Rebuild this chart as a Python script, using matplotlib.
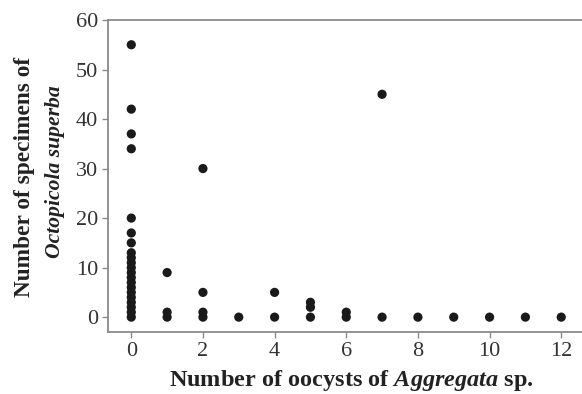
import matplotlib
matplotlib.use("Agg")
import matplotlib.pyplot as plt

plt.rcParams['font.family'] = ['Liberation Serif', 'DejaVu Serif']
plt.rcParams['mathtext.fontset'] = 'custom'
plt.rcParams['mathtext.rm'] = 'Liberation Serif:bold'
plt.rcParams['mathtext.bfit'] = 'Liberation Serif:italic:bold'
plt.rcParams['mathtext.it'] = 'Liberation Serif:italic:bold'

# data: (oocysts, specimens)
x_vals = [0]*21 + [1, 1, 1] + [2, 2, 2, 2] + [3] + [4, 4] + [5, 5, 5] + [6, 6] + [7, 7] + [8, 9, 10, 11, 12]
y_vals = ([55, 42, 37, 34, 20, 17, 15, 13, 12, 11, 10, 9, 8, 7, 6, 5, 4, 3, 2, 1, 0]
          + [9, 1, 0] + [30, 5, 1, 0] + [0] + [5, 0] + [3, 2, 0] + [1, 0] + [45, 0]
          + [0, 0, 0, 0, 0])
x_ticks = [0, 2, 4, 6, 8, 10, 12]
y_ticks = [0, 10, 20, 30, 40, 50, 60]

fig = plt.figure(figsize=(5.82, 3.94), dpi=100)
ax = fig.add_axes([108/582, 62/394, 1 - 108/582, (332-20)/394])
ax.scatter(x_vals, y_vals, s=44, color='#1a1a1a', edgecolors='none', zorder=3)
ax.set_xlim(-0.65, 12.58)
ax.set_ylim(-3.0, 60)
ax.set_xticks(x_ticks)
ax.set_yticks(y_ticks)
for s in ['left', 'bottom', 'top']:
    ax.spines[s].set_color('#8a8a8a')
    ax.spines[s].set_linewidth(1.3)
ax.spines['right'].set_visible(False)
ax.tick_params(direction='out', length=4, width=1, color='#8a8a8a',
               labelsize=16, labelcolor='#333333', pad=3)

ax.set_xlabel(r"Number of oocysts of $\mathit{Aggregata}$ sp.", fontsize=17.5,
              fontweight='bold', color='#222222')
ax.xaxis.set_label_coords(0.513, -0.115)

fig.text(25/582, 1 - 177/394, "Number of specimens of", rotation=90,
         ha='center', va='center', fontsize=16.8, fontweight='bold', color='#222222')
fig.text(55/582, 1 - 172/394, "Octopicola superba", rotation=90,
         ha='center', va='center', fontsize=15.6, fontweight='bold', style='italic', color='#222222')

fig.savefig('out.png', dpi=100)
